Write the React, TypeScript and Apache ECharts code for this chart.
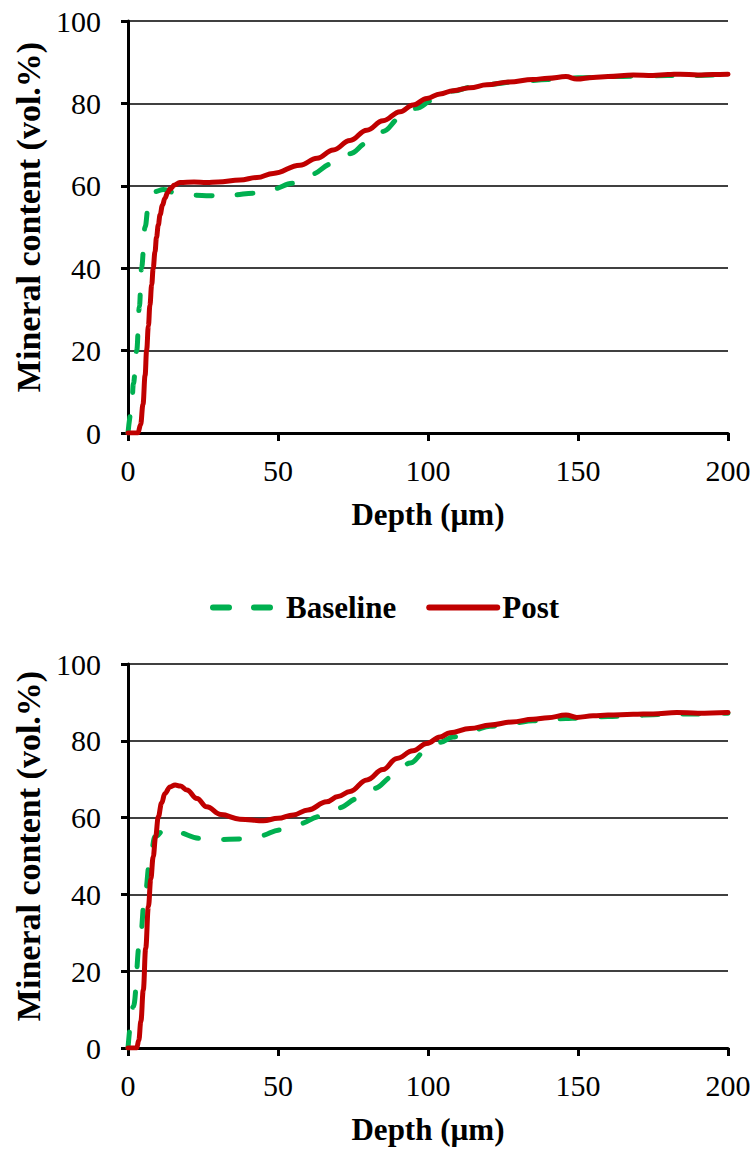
import React, { useEffect, useRef } from "react";
import * as echarts from "echarts";

const seriesNames = ["Baseline", "Post"];

const topBaselineDepth = [0, 1.2, 1.8, 2.9, 3.8, 4.5, 5.7, 6.8, 9, 11.8, 16.2, 22, 27.3, 35, 41.7, 48, 55, 61, 68, 74, 79.6, 85, 90.7, 96, 101.8, 108.4, 115, 120, 130, 140, 150, 160, 170, 180, 190, 200];
const topBaselineValue = [0, 5.6, 12, 20, 30.7, 40, 50, 55.3, 58.6, 59.1, 58.2, 57.7, 57.6, 57.8, 58.2, 59.2, 60.6, 62.8, 65.3, 67.8, 70.3, 73.2, 76.4, 78.8, 80.8, 83, 84, 84.6, 85.3, 85.8, 86.2, 86.5, 86.6, 86.8, 86.8, 87.0];

const topPostDepth = [0, 3.3, 4.2, 5, 5.7, 6.2, 6.8, 7.3, 7.9, 8.4, 9, 9.5, 10.1, 10.7, 11.5, 12.3, 13.2, 14, 15.5, 17.3, 22, 26.2, 30, 37.3, 43, 48.4, 57.3, 63, 68.4, 74, 79.6, 85, 90.7, 95, 99.6, 104, 108.4, 114, 119.6, 127, 135, 140, 146, 149.6, 155, 160, 168.4, 175, 180, 184, 190, 195, 200];
const topPostValue = [0, 0, 2, 7, 14, 20, 26, 31, 36, 40, 44, 47.5, 50.5, 53, 55.3, 57, 58.3, 59.2, 60.2, 60.8, 60.9, 60.8, 60.9, 61.4, 62, 63, 65, 66.7, 68.7, 71, 73.5, 75.8, 78, 79.6, 81.2, 82.3, 83.1, 83.8, 84.5, 85.2, 85.8, 86.1, 86.5, 85.9, 86.3, 86.5, 86.9, 86.8, 87.0, 87.1, 86.9, 87.0, 87.1];

const bottomBaselineDepth = [0, 1.8, 4, 5.7, 7.3, 9, 12.3, 16, 24, 30, 37.3, 44, 50.7, 57, 64, 70, 76.8, 82, 88.4, 94, 99.6, 104, 108.4, 115, 120.7, 128, 135, 140, 146, 150, 160, 168.4, 175, 183, 190, 200];
const bottomBaselineValue = [0, 10.8, 28.1, 40.3, 49, 55, 57, 56.2, 54.6, 54.3, 54.4, 55.3, 56.8, 58.4, 60.3, 62.5, 65, 67.6, 70.7, 74.2, 77.6, 79.6, 81, 82.8, 83.8, 84.6, 85.2, 85.5, 85.8, 85.9, 86.3, 86.6, 86.8, 87, 87, 87.2];

const bottomPostDepth = [0, 2.9, 3.6, 4.3, 5.1, 5.9, 6.8, 7.6, 8.4, 9.2, 10.1, 11.2, 12.3, 14, 15.7, 17.5, 19.6, 23, 26.2, 31, 37.3, 45.1, 50, 55.1, 60, 66.2, 70, 74, 79.6, 85, 89.6, 95, 99.6, 104, 107.3, 114, 120.7, 128, 135, 140, 146, 149.6, 155, 160, 168.4, 175, 182.9, 190, 200];
const bottomPostValue = [0, 0, 2, 7, 15.1, 26, 36.8, 44, 49.8, 55, 60.2, 63.8, 66.3, 68, 68.5, 68.2, 67.2, 65, 62.8, 60.8, 59.6, 59.2, 59.8, 60.7, 62, 64.1, 65.5, 66.8, 69.8, 72.5, 75.4, 77.4, 79.3, 81, 82.1, 83.2, 84.1, 84.9, 85.6, 86, 86.7, 86.1, 86.5, 86.7, 86.9, 87.0, 87.4, 87.2, 87.4];

const zip = (xs: number[], ys: number[]) => xs.map((x, i) => [x, ys[i]]);

const FONT = "'Liberation Serif', 'Times New Roman', serif";
const GREEN = "#00B050";
const RED = "#C00000";

export default function App() {
  const ref = useRef<HTMLDivElement>(null);
  useEffect(() => {
    if (!ref.current) return;
    const chart = echarts.init(ref.current, undefined, { renderer: "svg" });
    const xAxisBase = (gridIndex: number) => ({
      type: "value",
      gridIndex,
      min: 0,
      max: 200,
      interval: 50,
      name: "Depth (µm)",
      nameLocation: "middle",
      nameGap: 66,
      nameMoveOverlap: false,
      nameTextStyle: { fontFamily: FONT, fontSize: 31, fontWeight: "bold", color: "#000" },
      axisLine: { show: true, lineStyle: { color: "#000", width: 3 } },
      axisTick: { show: true, inside: false, length: 8, lineStyle: { color: "#000", width: 3 } },
      axisLabel: { fontFamily: FONT, fontSize: 30, color: "#000", margin: 22 },
      splitLine: { show: false },
    });
    const yAxisBase = (gridIndex: number) => ({
      type: "value",
      gridIndex,
      min: 0,
      max: 100,
      interval: 20,
      name: "Mineral content (vol.%)",
      nameLocation: "middle",
      nameGap: 83,
      nameMoveOverlap: false,
      nameTextStyle: { fontFamily: FONT, fontSize: 34, fontWeight: "bold", color: "#000", padding: [0, 0, 0, 20] },
      axisLine: { show: true, lineStyle: { color: "#000", width: 3 } },
      axisTick: { show: true, inside: false, length: 7, lineStyle: { color: "#000", width: 3 } },
      axisLabel: { fontFamily: FONT, fontSize: 30, color: "#000", margin: 27 },
      splitLine: { show: true, lineStyle: { color: "#000", width: 1.5 } },
    });
    const lineSeries = (name: string, data: number[][], idx: number, dashed: boolean) => ({
      type: "line",
      name,
      data,
      xAxisIndex: idx,
      yAxisIndex: idx,
      showSymbol: false,
      symbol: "none",
      smooth: 0.4,
      smoothMonotone: "x",
      lineStyle: dashed
        ? { color: GREEN, width: 5, type: [16, 25], cap: "round" }
        : { color: RED, width: 5, cap: "round", join: "round" },
      itemStyle: { color: dashed ? GREEN : RED },
      z: dashed ? 2 : 3,
    });
    chart.setOption({
      animation: false,
      backgroundColor: "#fff",
      legend: {
        data: seriesNames,
        left: 205,
        top: 587,
        itemWidth: 68,
        itemHeight: 14,
        itemGap: 30,
        itemStyle: { opacity: 0 },
        lineStyle: { width: 6, cap: "round" },
        textStyle: { fontFamily: FONT, fontSize: 31, fontWeight: "bold", color: "#000" },
      },
      grid: [
        { left: 128, right: 28, top: 21, height: 412, containLabel: false },
        { left: 128, right: 28, top: 664, height: 384, containLabel: false },
      ],
      xAxis: [xAxisBase(0), xAxisBase(1)],
      yAxis: [yAxisBase(0), yAxisBase(1)],
      series: [
        lineSeries(seriesNames[0], zip(topBaselineDepth, topBaselineValue), 0, true),
        lineSeries(seriesNames[1], zip(topPostDepth, topPostValue), 0, false),
        lineSeries(seriesNames[0], zip(bottomBaselineDepth, bottomBaselineValue), 1, true),
        lineSeries(seriesNames[1], zip(bottomPostDepth, bottomPostValue), 1, false),
      ],
    });
    return () => chart.dispose();
  }, []);
  return (
    <div
      ref={ref}
      style={{ position: "absolute", left: 0, top: 0, width: 756, height: 1150 }}
    />
  );
}
